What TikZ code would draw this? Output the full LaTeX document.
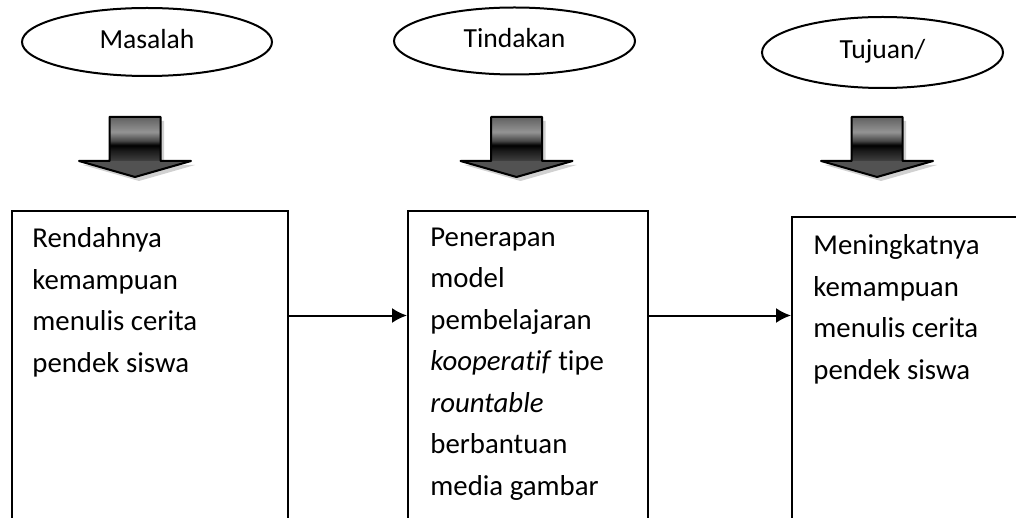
\documentclass[tikz,border=0pt]{standalone}
\usepackage{fontspec}
\setmainfont[Ligatures=NoCommon]{Carlito}
\usetikzlibrary{shapes.geometric,arrows.meta}

% dark band of the block arrows
\pgfdeclareverticalshading{shaftshade}{100bp}{color(0bp)=(black!75); color(25bp)=(black!75); color(37bp)=(black!90); color(43bp)=(black); color(48bp)=(black!72); color(58bp)=(black!42); color(75bp)=(black!62); color(100bp)=(black!62)}

\tikzset{
  goal/.style={draw, ellipse, line width=1pt, minimum width=120.5pt, minimum height=34pt,
    inner sep=0pt, text height=0.63em, text depth=0pt, font=\fontsize{13.8pt}{16pt}\selectfont},
  panel/.style={draw, line width=1pt, inner sep=0pt, anchor=north west, minimum height=170pt},
  txt/.style={align=left, anchor=base west, inner sep=0pt, font=\fontsize{14.4pt}{20.75pt}\selectfont},
  link/.style={line width=1pt, -{Latex[length=7.5pt,width=7.5pt]}},
}

\begin{document}
\begin{tikzpicture}[x=0.5pt, y=-0.5pt]
\useasboundingbox (0,0) rectangle (1016,518);
\clip (0,0) rectangle (1016,518);
\node[goal, minimum width=125pt] (masalah) at (147,42) {Masalah};
\node[goal, minimum height=33.5pt] (tindakan) at (514.5,41) {Tindakan};
\node[goal, minimum height=35.5pt] (tujuan) at (882.5,52.5) {Tujuan/};
% block arrows
\foreach \cx in {135,516.5,877} {
  \fill[black!30, opacity=0.6] (\cx-22,121) -- (\cx+29,121) -- (\cx+29,165) -- (\cx+60,165)
    -- (\cx+4,181) -- (\cx-52,165) -- (\cx-22,165) -- cycle;
  \shade[shading=shaftshade] (\cx-25.5,117) rectangle (\cx+25.5,161);
  \fill[black!68] (\cx-56,161) -- (\cx+56,161) -- (\cx,177) -- cycle;
  \draw[line width=1pt, line join=round] (\cx-25.5,117) -- (\cx+25.5,117) -- (\cx+25.5,161)
    -- (\cx+56,161) -- (\cx,177) -- (\cx-56,161) -- (\cx-25.5,161) -- cycle;
}
\node[panel, minimum width=138pt] (kondisi) at (11,210) {};
\node[panel, minimum width=120pt] (aksi) at (407,210) {};
\node[panel, minimum width=130pt] (hasil) at (791,216) {};
% text nodes sit on the baseline of their last line
\node[txt] (t1) at (32,372) {Rendahnya\\kemampuan\\menulis cerita\\pendek siswa};
\node[txt] (t2) at (430,495) {Penerapan\\model\\pembelajaran\\\textit{kooperatif} tipe\\\textit{rountable}\\berbantuan\\media gambar};
\node[txt] (t3) at (813,379) {Meningkatnya\\kemampuan\\menulis cerita\\pendek siswa};
\coordinate (lvl) at (0,315.5);
\draw[link] (kondisi.north east |- lvl) -- (aksi.north west |- lvl);
\draw[link] (aksi.north east |- lvl) -- (hasil.north west |- lvl);
\end{tikzpicture}
\end{document}
